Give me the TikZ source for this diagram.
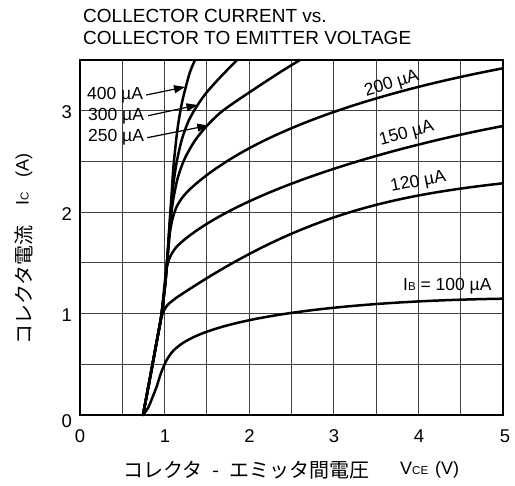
\documentclass[tikz,border=0pt]{standalone}
\usepackage{fontspec}
\setmainfont{Liberation Sans}
\newfontfamily\jpfont{Noto Sans CJK JP}
\usetikzlibrary{arrows.meta}
\newcommand\subcap[1]{{\fontsize{11.5}{12}\selectfont #1}}
\begin{document}
\begin{tikzpicture}[x=1pt,y=-1pt,
  frame/.style={line width=2.4pt},
  gridline/.style={line width=1.1pt, black!75},
  curve/.style={line width=2.5pt, line join=round, line cap=round},
  lab/.style={inner sep=0pt, font=\fontsize{17.5}{20}\selectfont},
  tick/.style={inner sep=0pt, font=\fontsize{18.5}{21}\selectfont},
  ttl/.style={inner sep=0pt, anchor=base west, font=\fontsize{19}{23}\selectfont},
  jp/.style={inner sep=0pt, anchor=base west, font=\jpfont\fontsize{20}{23}\selectfont},
  axl/.style={inner sep=0pt, anchor=base west, font=\fontsize{18}{21}\selectfont},
  ptr/.style={line width=1.2pt, -{Triangle[length=11pt,width=8pt]}},
]
\useasboundingbox (0,0) rectangle (515,486);
\fill[white] (0,0) rectangle (515,486);

% title
\node[ttl] (t1) at (83,22.5) {COLLECTOR CURRENT vs.};
\node[ttl] (t2) at (83,45) {COLLECTOR TO EMITTER VOLTAGE};

% grid
\foreach \gx in {122.3,164.6,206.9,249.2,291.5,333.8,376.1,418.4,460.7}
  \draw[gridline] (\gx,60) -- (\gx,415);
\foreach \gy in {364.3,313.6,262.9,212.2,161.5,110.8}
  \draw[gridline] (80,\gy) -- (503,\gy);

% curves
% 100 uA
\draw[curve] plot[smooth,tension=0.5] coordinates {(143,415) (148,408) (152,398.5) (156.7,386.5) (161,373) (166.7,360) (173,351) (180,345)}
  .. controls (220,315.6) and (353,301) .. (503,298.7);
% 120 uA
\draw[curve] plot[smooth,tension=0.5] coordinates {(143,415) (150,378) (157,340) (161,319) (164,310.5) (168,304.5) (176,298)}
  .. controls (296,217.6) and (383,196.7) .. (503,183.3);
% 150 uA
\draw[curve] plot[smooth,tension=0.5] coordinates {(143,415) (150,378) (157,340) (161,318) (164,290) (166.5,269) (170,257) (176,247.5) (184,240)}
  .. controls (244,190.8) and (383,148.8) .. (503,126);
% 200 uA
\draw[curve] plot[smooth,tension=0.5] coordinates {(143,415) (150,378) (157,340) (161,318) (163.5,299) (165.5,281) (167.8,255) (170,232) (173,217) (177,206) (182,198) (188,191)}
  .. controls (258,124.5) and (403,87.3) .. (503,68.3);
% 250 uA
\draw[curve] plot[smooth,tension=0.5] coordinates {(143,415) (150,378) (157,340) (161,318) (163.5,299) (165.5,281) (167.5,256) (170,226) (173,201) (178,177) (185,158) (195,140.5) (206.7,126) (220,113) (235,102) (262,84) (282,71) (300,60)};
% 300 uA
\draw[curve] plot[smooth,tension=0.5] coordinates {(143,415) (150,378) (157,340) (161,318) (163.5,299) (165.5,281) (167.5,256) (169.5,226) (172,196) (176,166) (181.7,140) (189,120) (198.3,104) (207,92) (220,77.5) (237,60)};
% 400 uA
\draw[curve] plot[smooth,tension=0.5] coordinates {(143,415) (150,378) (157,340) (161,318) (163.5,299) (165.5,281) (167.5,256) (169.5,226) (171.5,196) (173.5,166) (177.5,129) (181.7,104) (185.8,87) (190,72) (195,60)};

% frame
\draw[frame] (80,60) rectangle (503,415);

% curve labels and pointers
\node[lab, anchor=base west] (l400) at (87,99.3) {400 µA};
\node[lab, anchor=base west] (l300) at (88,121) {300 µA};
\node[lab, anchor=base west] (l250) at (88,142) {250 µA};
\coordinate (p400) at (185,87);
\coordinate (p300) at (197.5,105);
\coordinate (p250) at (208.3,125.5);
\draw[ptr] ([xshift=3pt]l400.east) -- (p400);
\draw[ptr] ([xshift=4pt,yshift=1pt]l300.east) -- (p300);
\draw[ptr] ([xshift=3pt]l250.east) -- (p250);

\node[lab, rotate=17] (l200) at (391.7,84) {200 µA};
\node[lab, rotate=15] (l150) at (406.7,134) {150 µA};
\node[lab, rotate=11] (l120) at (418.3,182.3) {120 µA};
\node[lab, anchor=base west] (l100) at (403,290.7) {I\subcap{B} = 100 µA};

% tick labels
\node[tick, anchor=east] (y0) at (72,421.5) {0};
\node[tick, anchor=east] (y1) at (72,315) {1};
\node[tick, anchor=east] (y2) at (72,214.5) {2};
\node[tick, anchor=east] (y3) at (72,112.5) {3};
\node[tick] (x0) at (80,436.5) {0};
\node[tick] (x1) at (165,436.5) {1};
\node[tick] (x2) at (249.5,436.5) {2};
\node[tick] (x3) at (334,436.5) {3};
\node[tick] (x4) at (419,436.5) {4};
\node[tick] (x5) at (505,436.5) {5};

% axis titles
\node[jp] (xj) at (123,478) {コレクタ\hspace{10pt}-\hspace{10pt}エミッタ間電圧};
\node[axl] (xv) at (400,475) {V\subcap{CE}};
\node[axl] (xu) at (435,475) {(V)};

\node[jp, rotate=90] (yj) at (31,345) {コレクタ電流};
\node[axl, rotate=90] (yi) at (28.5,206) {I\subcap{C}};
\node[axl, rotate=90] (yu) at (28.5,178) {(A)};
\end{tikzpicture}
\end{document}
